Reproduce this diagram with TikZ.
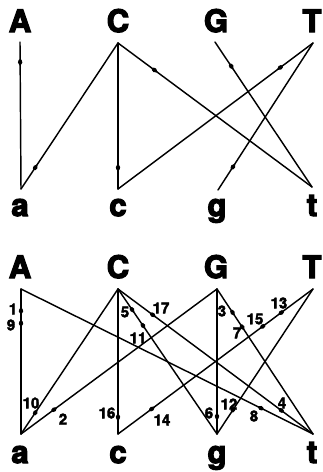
\documentclass[tikz,border=0pt]{standalone}
\usepackage{fontspec}
\setmainfont{TeX Gyre Heros}
\newfontfamily\heavy[BoldFont={TeX Gyre Heros Bold}, BoldFeatures={FakeBold=4}]{TeX Gyre Heros}
\newfontfamily\heavynum[BoldFont={TeX Gyre Heros Bold}, BoldFeatures={FakeBold=2.5}]{TeX Gyre Heros}
\usetikzlibrary{decorations.markings}
\newcommand{\tipmark}{\fill (3.5,0) -- (0,2.2) .. controls (-2.2,2.2) and (-3.5,1.2) .. (-3.5,0) .. controls (-3.5,-1.2) and (-2.2,-2.2) .. (0,-2.2) -- cycle;}
\newcommand{\tipmarkrev}{\fill (-3.5,0) -- (0,2.2) .. controls (2.2,2.2) and (3.5,1.2) .. (3.5,0) .. controls (3.5,-1.2) and (2.2,-2.2) .. (0,-2.2) -- cycle;}
\tikzset{
  edge/.style={line width=1.45pt, line cap=round},
  fwd/.style={postaction={decorate,decoration={markings,mark=at position #1 with {\tipmark}}}},
  bwd/.style={postaction={decorate,decoration={markings,mark=at position #1 with {\tipmarkrev}}}},
  big/.style={font=\fontsize{31}{33}\heavy\bfseries, anchor=base, inner sep=0pt},
  num/.style={font=\fontsize{15}{16}\heavynum\bfseries, inner sep=0pt},
}
\begin{document}
\begin{tikzpicture}[x=1pt,y=-1pt]
\useasboundingbox (0,0) rectangle (323,472);
% ---------- top diagram ----------
\node[big] (tA) at (20,32) {A};
\node[big] (tC) at (118,32) {C};
\node[big] (tG) at (216,32) {G};
\node[big] (tT) at (312,32) {T};
\node[big] (ta) at (20,216) {a};
\node[big] (tc) at (118,216) {c};
\node[big] (tg) at (217,216) {g};
\node[big] (tt) at (312,216) {t};
\coordinate (uA) at (20,42);
\coordinate (uC) at (118,43);
\coordinate (uG) at (215,42);
\coordinate (uT) at (313,43);
\coordinate (ua) at (21,189);
\coordinate (uc) at (118,189);
\coordinate (ug) at (218,190);
\coordinate (ut) at (312,187);
\draw[edge, fwd=0.14] (uA) -- (ua);
\draw[edge, fwd=0.15] (ua) -- (uC);
\draw[edge, fwd=0.19] (uC) -- (ut);
\draw[edge, fwd=0.15] (uc) -- (uC);
\draw[edge, fwd=0.17] (uT) -- (uc);
\draw[edge, fwd=0.16] (ug) -- (uT);
\draw[edge, fwd=0.17] (uG) -- (ut);
% ---------- bottom diagram ----------
\node[big] (bA) at (20,278) {A};
\node[big] (bC) at (118,278) {C};
\node[big] (bG) at (216,278) {G};
\node[big] (bT) at (312,278) {T};
\node[big] (ba) at (20,463) {a};
\node[big] (bc) at (118,463) {c};
\node[big] (bg) at (217,463) {g};
\node[big] (bt) at (312,463) {t};
\coordinate (vA) at (21,289);
\coordinate (vC) at (118,289);
\coordinate (vG) at (217,289);
\coordinate (vT) at (313,289);
\coordinate (va) at (21,434);
\coordinate (vc) at (118,434);
\coordinate (vg) at (217,434);
\coordinate (vt) at (313,434);
\draw[edge, fwd=0.155, fwd=0.24] (vA) -- (va);
\draw[edge, fwd=0.17] (va) -- (vG);
\draw[edge, fwd=0.165, fwd=0.265] (vG) -- (vt);
\draw[edge, fwd=0.18, bwd=0.835] (vC) -- (vt);
\draw[edge, fwd=0.145, fwd=0.255] (vC) -- (vg);
\draw[edge, fwd=0.125] (vg) -- (vG);
\draw[edge, fwd=0.18] (vt) -- (vA);
\draw[edge, fwd=0.15] (va) -- (vC);
\draw[edge, fwd=0.17] (vg) -- (vT);
\draw[edge, fwd=0.165, fwd=0.26, bwd=0.825] (vT) -- (vc);
\draw[edge, fwd=0.12] (vc) -- (vC);
% numbers
\node[num] (n1) at (13,309) {1};
\node[num] (n9) at (11,325) {9};
\node[num] (n10) at (31,403) {10};
\node[num] (n2) at (63,419) {2};
\node[num] (n16) at (107,413) {16};
\node[num] (n14) at (162,420) {14};
\node[num] (n5) at (125,312) {5};
\node[num] (n11) at (138,338) {11};
\node[num] (n17) at (161,308) {17};
\node[num] (n3) at (222,311) {3};
\node[num] (n7) at (237,333) {7};
\node[num] (n15) at (255,319) {15};
\node[num] (n13) at (279,303) {13};
\node[num] (n6) at (209,413) {6};
\node[num] (n12) at (229,404) {12};
\node[num] (n8) at (254,416) {8};
\node[num] (n4) at (282,403) {4};
\end{tikzpicture}
\end{document}
